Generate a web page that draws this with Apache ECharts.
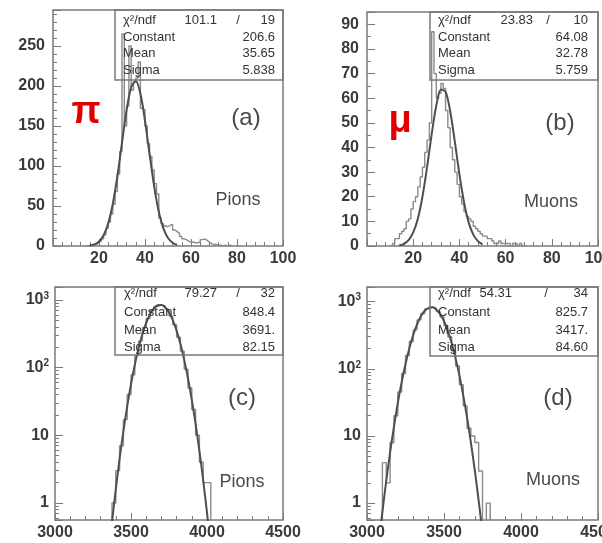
<!DOCTYPE html>
<html>
<head>
<meta charset="utf-8">
<script src="https://cdn.jsdelivr.net/npm/echarts@6/dist/echarts.min.js"></script>
<style>
  html, body { margin: 0; padding: 0; background: #fff; }
  #main { width: 602px; height: 543px; }
</style>
</head>
<body>
<div id="main"></div>
<script>
// (a) pions, linear energy histogram, 1-unit bins starting at 14
var piBinStart = 14, piBinW = 1;
var piCounts = [0,0,1,1,2,4,6,9,14,22,30,40,52,68,90,118,265,150,175,250,
                195,205,210,230,172,170,150,128,112,95,78,65,35,28,25,24,
                26,27,20,18,16,12,9,8,6,5,5,4,4,5,8,9,7,5,3,2,2,1,1,0,1,0,1,0];
var piFitX = [16,18,20,22,24,26,28,30,32,34,36,38,40,42,44,46,48,50,52,54];
var piFitY = [0.7,2.1,5.7,13.4,28.2,52.7,87.5,129.3,169.9,198.5,206.2,190.5,156.5,114.4,74.3,42.9,22.0,10.1,4.1,1.5];

// (b) muons, linear
var muBinStart = 10, muBinW = 1;
var muCounts = [0,1,3,3,5,6,7,10,11,15,18,20,24,28,32,38,43,50,87,70,
                60,62,66,64,55,48,40,35,30,25,20,17,14,12,11,10,8,7,6,5,
                4,4,3,3,2,1,1,2,1,1,1,1,0,1,1,0,1,0];
var muFitX = [14,16,18,20,22,24,26,28,30,32,34,36,38,40,42,44,46,48,50];
var muFitY = [0.3,0.9,2.4,5.5,11.1,20.0,32.0,45.4,57.0,63.5,62.7,54.8,42.5,29.2,17.8,9.6,4.6,2.0,0.7];

// (c) pions, log scale, 25-wide bins from 3350
var piLogBinStart = 3350, piLogBinW = 25;
var piLogCounts = [0,1,3,7,17,40,78,150,246,390,530,690,795,850,815,730,575,430,280,175,95,50,24,10,4,2,2,0];
var piLogFitX = [3350,3375,3400,3425,3450,3475,3500,3525,3550,3575,3600,3625,3650,3675,3700,
                 3725,3750,3775,3800,3825,3850,3875,3900,3925,3950,3975,4000,4025];
var piLogFitY = [0.15,0.52,1.6,4.5,11.5,26.7,56.9,110,195,313,459,614,749,832,843,
                 779,656,503,352,224,130,69,33.4,14.7,5.9,2.15,0.72,0.22];

// (d) muons, log scale, 25-wide bins from 3075
var muLogBinStart = 3075, muLogBinW = 25;
var muLogCounts = [0,4,2,8,20,45,85,158,255,380,535,665,780,830,800,710,590,440,300,185,110,58,28,13,10,8,3,0,1,0];
var muLogFitX = [3075,3100,3125,3150,3175,3200,3225,3250,3275,3300,3325,3350,3375,3400,3425,
                 3450,3475,3500,3525,3550,3575,3600,3625,3650,3675,3700,3725,3750,3775];
var muLogFitY = [0.23,0.74,2.14,5.67,13.8,30.8,62.9,117.7,201.8,317,457,603,730,809,822,
                 765,653,510,365.5,240,144,79.6,40.2,18.6,7.9,3.07,1.09,0.36,0.11];

// stat boxes
var statLabels = ['χ²/ndf', 'Constant', 'Mean', 'Sigma'];
var statA = ['101.1', '19', '206.6', '35.65', '5.838'];
var statB = ['23.83', '10', '64.08', '32.78', '5.759'];
var statC = ['79.27', '32', '848.4', '3691.', '82.15'];
var statD = ['54.31', '34', '825.7', '3417.', '84.60'];

var logTicks = [1, 10, 100, 1000];
</script>
<script>
var chart = echarts.init(document.getElementById('main'));

function histData(start, w, counts, floor) {
    var out = [];
    for (var i = 0; i < counts.length; i++) {
        var c = counts[i];
        if (floor && c <= 0) c = floor;
        out.push([start + i * w, c]);
    }
    out.push([start + counts.length * w, floor ? floor : 0]);
    return out;
}
function pairs(xs, ys) {
    var out = [];
    for (var i = 0; i < xs.length; i++) out.push([xs[i], ys[i]]);
    return out;
}

var labelFont = {
    color: '#3a3a3a',
    fontSize: 16,
    fontWeight: 'bold',
    fontFamily: 'Liberation Sans, Arial, sans-serif'
};
var frameColor = '#7a7a7a';

function xAxisCfg(idx, min, max, interval, hideZero) {
    return {
        type: 'value', gridIndex: idx, min: min, max: max, interval: interval,
        axisLine: { show: false },
        axisTick: { show: true, inside: true, length: 7, lineStyle: { color: frameColor } },
        minorTick: { show: true, splitNumber: 5, length: 4, lineStyle: { color: frameColor } },
        splitLine: { show: false },
        axisLabel: Object.assign({
            margin: 5,
            showMaxLabel: true,
            hideOverlap: false,
            formatter: function (v) { return (hideZero && v === 0) ? '' : String(v); }
        }, labelFont)
    };
}
function linYCfg(idx, max, interval, minorSplit) {
    return {
        type: 'value', gridIndex: idx, min: 0, max: max, interval: interval,
        axisLine: { show: false },
        axisTick: { show: true, inside: true, length: 8, lineStyle: { color: frameColor } },
        minorTick: { show: true, splitNumber: minorSplit, length: 4, lineStyle: { color: frameColor } },
        splitLine: { show: false },
        axisLabel: Object.assign({ margin: 8, showMaxLabel: false, hideOverlap: false }, labelFont)
    };
}
function logYCfg(idx, min, max) {
    return {
        type: 'log', gridIndex: idx, logBase: 10, min: min, max: max,
        axisLine: { show: false },
        axisTick: { show: true, inside: true, length: 8, lineStyle: { color: frameColor } },
        minorTick: { show: true, splitNumber: 9, length: 4, lineStyle: { color: frameColor } },
        splitLine: { show: false },
        axisLabel: Object.assign({
            margin: 6,
            hideOverlap: false,
            formatter: function (v) {
                var r = Math.round(v);
                if (logTicks.indexOf(r) < 0 || Math.abs(v - r) > 1e-6) return '';
                if (r === 100) return '10{sup|2}';
                if (r === 1000) return '10{sup|3}';
                return String(r);
            },
            rich: {
                sup: { fontSize: 10, fontWeight: 'bold', color: '#3a3a3a', verticalAlign: 'top', padding: [0, 0, 8, 0],
                       fontFamily: 'Liberation Sans, Arial, sans-serif' }
            }
        }, labelFont)
    };
}

function gridCfg(left, top, width, height) {
    return {
        left: left, top: top, width: width, height: height,
        show: true, borderColor: frameColor, borderWidth: 1.5, backgroundColor: 'transparent',
        containLabel: false, outerBoundsMode: 'none'
    };
}

function histSeries(idx, data) {
    return {
        type: 'line', xAxisIndex: idx, yAxisIndex: idx, data: data, step: 'end',
        symbol: 'none', clip: true, animation: false, z: 2,
        lineStyle: { color: '#8a8a8a', width: 1.4 }
    };
}
function fitSeries(idx, data) {
    return {
        type: 'line', xAxisIndex: idx, yAxisIndex: idx, data: data, smooth: 0.3,
        symbol: 'none', clip: true, animation: false, z: 3,
        lineStyle: { color: '#4e4e4e', width: 2 }
    };
}

var statFont = '13px "Liberation Sans", Arial, sans-serif';
function statBox(bx, by, bw, bh, tx, vr, slashX, firstR, rowY, vals) {
    var g = [{
        type: 'rect', shape: { x: bx, y: by, width: bw, height: bh },
        style: { fill: 'none', stroke: frameColor, lineWidth: 1.5 }, z: 10
    }];
    for (var i = 0; i < statLabels.length; i++) {
        g.push({ type: 'text', x: tx, y: rowY[i], z: 10,
                 style: { text: statLabels[i], fill: '#333', font: statFont, verticalAlign: 'middle' } });
    }
    g.push({ type: 'text', x: firstR, y: rowY[0], z: 10,
             style: { text: vals[0], fill: '#333', font: statFont, align: 'right', verticalAlign: 'middle' } });
    g.push({ type: 'text', x: slashX, y: rowY[0], z: 10,
             style: { text: '/', fill: '#333', font: statFont, align: 'center', verticalAlign: 'middle' } });
    g.push({ type: 'text', x: vr, y: rowY[0], z: 10,
             style: { text: vals[1], fill: '#333', font: statFont, align: 'right', verticalAlign: 'middle' } });
    for (var j = 2; j < vals.length; j++) {
        g.push({ type: 'text', x: vr, y: rowY[j - 1], z: 10,
                 style: { text: vals[j], fill: '#333', font: statFont, align: 'right', verticalAlign: 'middle' } });
    }
    return g;
}
function label(text, x, y, size, color, weight) {
    return { type: 'text', x: x, y: y, z: 10,
             style: { text: text, fill: color, align: 'center', verticalAlign: 'middle',
                      font: (weight || 'normal') + ' ' + size + 'px "Liberation Sans", Arial, sans-serif' } };
}

var graphics = []
    .concat(statBox(115, 10, 168, 70, 123, 275, 238, 217, [20, 37, 53, 70], statA))
    .concat(statBox(430, 12, 168, 68, 438, 588, 548, 533, [20, 37, 53, 70], statB))
    .concat(statBox(115, 287, 168, 68, 124, 275, 238, 217, [293, 312, 330, 347], statC))
    .concat(statBox(430, 287, 168, 69, 438, 588, 546, 512, [293, 312, 330, 347], statD))
    .concat([
        label('(a)', 246, 118, 24, '#4a4a4a'),
        label('Pions', 238, 200, 18, '#4a4a4a'),
        label('(b)', 560, 123, 24, '#4a4a4a'),
        label('Muons', 551, 202, 18, '#4a4a4a'),
        label('(c)', 242, 398, 24, '#4a4a4a'),
        label('Pions', 242, 482, 18, '#4a4a4a'),
        label('(d)', 558, 398, 24, '#4a4a4a'),
        label('Muons', 553, 480, 18, '#4a4a4a'),
        label('π', 86, 113, 38, '#e00000', 'bold'),
        label('μ', 400, 122, 38, '#e00000', 'bold')
    ]);

var option = {
    backgroundColor: '#fff',
    animation: false,
    grid: [
        gridCfg(53, 10, 230, 236),
        gridCfg(367, 12, 231, 234),
        gridCfg(55, 287, 228, 233),
        gridCfg(367, 287, 231, 233)
    ],
    xAxis: [
        xAxisCfg(0, 0, 100, 20, true),
        xAxisCfg(1, 0, 100, 20, true),
        xAxisCfg(2, 3000, 4500, 500, false),
        xAxisCfg(3, 3000, 4500, 500, false)
    ],
    yAxis: [
        linYCfg(0, 295, 50, 5),
        linYCfg(1, 95, 10, 2),
        logYCfg(2, 0.56, 1550),
        logYCfg(3, 0.56, 1650)
    ],
    series: [
        histSeries(0, histData(piBinStart, piBinW, piCounts)),
        fitSeries(0, pairs(piFitX, piFitY)),
        histSeries(1, histData(muBinStart, muBinW, muCounts)),
        fitSeries(1, pairs(muFitX, muFitY)),
        histSeries(2, histData(piLogBinStart, piLogBinW, piLogCounts, 0.01)),
        fitSeries(2, pairs(piLogFitX, piLogFitY)),
        histSeries(3, histData(muLogBinStart, muLogBinW, muLogCounts, 0.01)),
        fitSeries(3, pairs(muLogFitX, muLogFitY))
    ],
    graphic: graphics
};

if (option && typeof option === "object") {
    chart.setOption(option, true);
}
</script>
</body>
</html>
